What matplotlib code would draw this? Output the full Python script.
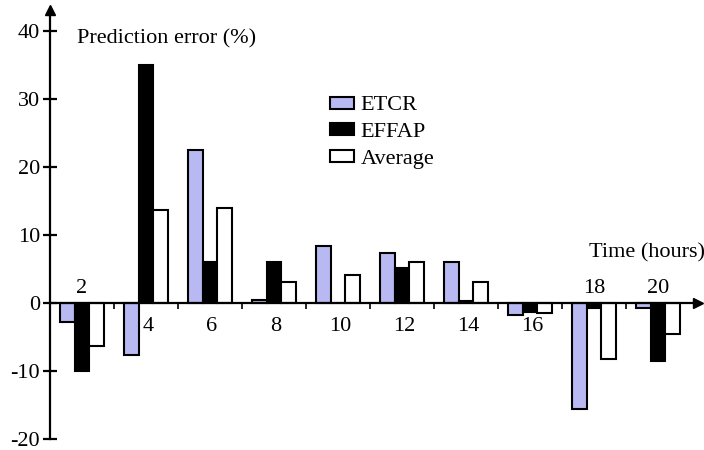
import matplotlib.pyplot as plt
import numpy as np

hours = ["2", "4", "6", "8", "10", "12", "14", "16", "18", "20"]
etcr = [-2.8, -7.6, 22.5, 0.5, 8.4, 7.4, 6.0, -1.7, -15.6, -0.7]
effap = [-10.0, 35.0, 6.0, 6.0, 0.0, 5.1, 0.3, -1.4, -0.8, -8.5]
average = [-6.3, 13.7, 14.0, 3.1, 4.1, 6.0, 3.1, -1.5, -8.2, -4.6]
# which hour labels sit above the axis line
label_above = [True, False, False, False, False, False, False, False, True, True]

plt.rcParams["font.family"] = ["Liberation Serif", "DejaVu Serif"]
plt.rcParams["axes.unicode_minus"] = False

fig = plt.figure(figsize=(7.04, 4.5), dpi=100)
ax = fig.add_axes([0, 0, 1, 1])
ax.set_xlim(-1.28, 9.72)
ax.set_ylim(-21.6, 44.5)

x = np.arange(len(hours))
w = 0.23
ax.bar(x - w, etcr, w, color="#b8b8f2", edgecolor="black", linewidth=1.5, label="ETCR")
ax.bar(x, effap, w, color="black", edgecolor="black", linewidth=1.5, label="EFFAP")
ax.bar(x + w, average, w, color="white", edgecolor="black", linewidth=1.5, label="Average")

for s in ["top", "right"]:
    ax.spines[s].set_visible(False)
ax.spines["left"].set_position(("data", -0.5))
ax.spines["left"].set_bounds(-20, 42.3)
ax.spines["left"].set_linewidth(1.6)
ax.spines["bottom"].set_position(("data", 0))
ax.spines["bottom"].set_bounds(-0.5, 9.55)
ax.spines["bottom"].set_linewidth(1.6)

# arrow heads
ax.plot([-0.5], [43.0], marker="^", color="black", markersize=7, clip_on=False)
ax.plot([9.62], [0], marker=">", color="black", markersize=7, clip_on=False)

ax.set_yticks([-20, -10, 0, 10, 20, 30, 40])
ax.tick_params(axis="y", direction="inout", length=10, width=1.6, labelsize=16, pad=2)
ax.set_xticks(np.arange(0.5, 9, 1.0))
ax.set_xticklabels([])
ax.tick_params(axis="x", direction="out", length=4, width=1.2)

for i, lab in enumerate(hours):
    if label_above[i]:
        ax.text(i, 0.7, lab, ha="center", va="bottom", fontsize=16)
    else:
        ax.text(i + 0.03, -2.0, lab, ha="center", va="top", fontsize=16)

ax.text(-0.08, 38.8, "Prediction error (%)", ha="left", va="center", fontsize=16)
ax.text(9.74, 7.3, "Time (hours)", ha="right", va="center", fontsize=16)

ax.legend(loc="upper left", bbox_to_anchor=(0.44, 0.83), frameon=False, fontsize=16,
          handlelength=1.1, handleheight=0.45, handletextpad=0.3, labelspacing=0.35)

fig.savefig("out.png", dpi=100)
